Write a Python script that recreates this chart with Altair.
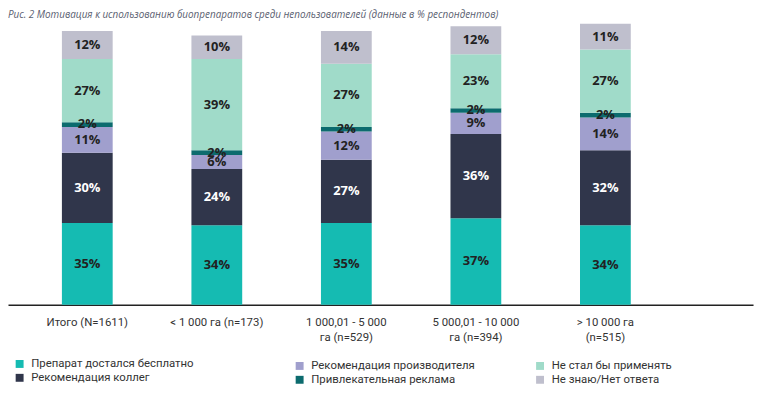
import altair as alt
import pandas as pd

categories = ["Итого (N=1611)", "< 1 000 га (n=173)", "1 000,01 - 5 000|га (n=529)",
              "5 000,01 - 10 000|га (n=394)", "> 10 000 га|(n=515)"]
series = ["Препарат достался бесплатно", "Рекомендация коллег", "Рекомендация производителя",
          "Привлекательная реклама", "Не стал бы применять", "Не знаю/Нет ответа"]
colors = ["#15BBB2", "#30364B", "#A09FCD", "#0C6B6E", "#A0DBC9", "#BFBFCD"]

free = [35, 34, 35, 37, 34]
colleagues = [30, 24, 27, 36, 32]
producer = [11, 6, 12, 9, 14]
ads = [2, 2, 2, 2, 2]
wouldnt = [27, 39, 27, 23, 27]
dontknow = [12, 10, 14, 12, 11]

values = [free, colleagues, producer, ads, wouldnt, dontknow]
rows = []
for si, (s, vals) in enumerate(zip(series, values)):
    for c, v in zip(categories, vals):
        rows.append({"category": c, "series": s, "value": v, "order": si})
df = pd.DataFrame(rows)

# legend columns as in the reference: (series indices, legendX, legendY)
legend_groups = [([0, 1], 6, 338), ([2, 3], 289, 340), ([4, 5], 532, 340)]

xscale = alt.Scale(paddingInner=0.608, paddingOuter=0.68, align=0.306)
xaxis = alt.Axis(title=None, labelAngle=0, ticks=False, labelExpr="split(datum.label, '|')",
                 domainColor="#222222", domainWidth=1.5, labelFont="Roboto",
                 labelFontSize=11.5, labelColor="#333333", labelPadding=12,
                 labelLineHeight=15.5)
yscale = alt.Scale(domain=[0, 120], nice=False)

base = alt.Chart(df).transform_stack(
    stack="value", as_=["y0", "y1"], groupby=["category"], sort=[alt.SortField("order")]
).transform_calculate(mid="(datum.y0 + datum.y1) / 2", label="datum.value + '%'")

layers = []
for idx, lx, ly in legend_groups:
    names = [series[i] for i in idx]
    cols = [colors[i] for i in idx]
    layers.append(
        base.transform_filter(alt.FieldOneOfPredicate(field="series", oneOf=names)).mark_bar().encode(
            x=alt.X("category:N", sort=categories, scale=xscale, axis=xaxis),
            y=alt.Y("y0:Q", scale=yscale, axis=None),
            y2="y1:Q",
            color=alt.Color("series:N", scale=alt.Scale(domain=names, range=cols),
                            legend=alt.Legend(title=None, orient="none", legendX=lx, legendY=ly,
                                              direction="vertical", symbolType="square",
                                              symbolSize=64, symbolStrokeWidth=0, labelFont="Roboto",
                                              labelFontSize=11.5, labelColor="#333333", labelOffset=6,
                                              rowPadding=1, labelLimit=400)),
        )
    )

text = base.mark_text(font="Open Sans", fontWeight="bold", fontSize=13, baseline="middle").encode(
    x=alt.X("category:N", sort=categories, scale=xscale),
    y=alt.Y("mid:Q", scale=yscale, axis=None),
    text="label:N",
    color=alt.condition(alt.datum.series == "Рекомендация коллег", alt.value("#FFFFFF"), alt.value("#222222")),
)

chart = alt.layer(*layers, text).resolve_scale(color="independent").properties(
    width=753, height=284,
    title=alt.TitleParams("Рис. 2 Мотивация к использованию биопрепаратов среди непользователей (данные в % респондентов)",
                          anchor="start", font="Open Sans", fontSize=10, fontStyle="italic",
                          fontWeight="normal", color="#5A6070", offset=4),
    autosize=alt.AutoSizeParams(type="none"),
    padding={"left": 0, "top": 14, "right": 3, "bottom": 80},
).configure_view(stroke=None)

chart.save("out.html", embed_options={"renderer": "svg", "actions": False})
